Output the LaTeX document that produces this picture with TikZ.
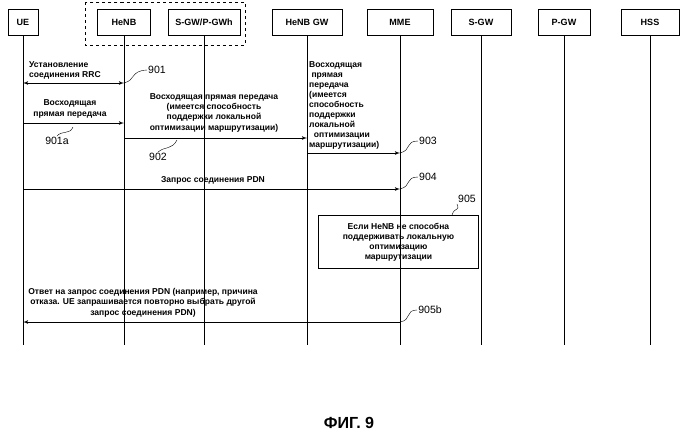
\documentclass[tikz,border=0pt]{standalone}
\usepackage{fontspec}
\setmainfont{Liberation Sans}
\usetikzlibrary{positioning, arrows}
\tikzstyle{head} = [rectangle, draw, thick, minimum height=26*0.035cm, inner sep=1pt, font=\fontsize{9}{10}\selectfont\bfseries]
\tikzstyle{msg} = [font=\fontsize{8.5}{10}\selectfont\bfseries, inner sep=1pt, align=center]
\tikzstyle{line} = [draw, thick, -latex']
\tikzstyle{tag} = [font=\fontsize{10.5}{11}\selectfont, inner sep=1pt]
\tikzstyle{squig} = [draw, thin]

\begin{document}
\begin{tikzpicture}[x=0.035cm, y=-0.035cm]
      \useasboundingbox (0,0) rectangle (699,436);
      % Place headers
      \node [head, minimum width=30*0.035cm] (ue) at (23,22) {UE};
      \node [head, minimum width=53*0.035cm] (henb) at (124,22) {HeNB};
      \node [head, minimum width=72*0.035cm] (sgwh) at (204,22) {S-GW/P-GWh};
      \node [head, minimum width=70*0.035cm] (henbgw) at (307,22) {HeNB GW};
      \node [head, minimum width=66*0.035cm] (mme) at (400,22) {MME};
      \node [head, minimum width=60*0.035cm] (sgw) at (481,22) {S-GW};
      \node [head, minimum width=52*0.035cm] (pgw) at (564,22) {P-GW};
      \node [head, minimum width=58*0.035cm] (hss) at (650,22) {HSS};
      \draw [dashed] (85,2) rectangle (245,45);

      % Lifelines
      \foreach \n/\x in {ue/23, henb/124, sgwh/204, henbgw/307, mme/400, sgw/481, pgw/564, hss/650} {
        \coordinate (\n-end) at (\x,345);
        \draw (\n) -- (\n-end);
      }
      \foreach \n/\x in {ue/23, henb/124, henbgw/307, mme/400} {
        \coordinate (\n-a) at (\x,83);
        \coordinate (\n-b) at (\x,123);
        \coordinate (\n-c) at (\x,138);
        \coordinate (\n-d) at (\x,153);
        \coordinate (\n-e) at (\x,189);
        \coordinate (\n-f) at (\x,322);
      }

      % Messages
      \path [draw, thick, latex'-latex'] (ue-a) -- (henb-a);
      \node [msg, align=left, anchor=south west] (rrc) at (28,80) {Установление\\соединения RRC};
      \path [line] (ue-b) -- (henb-b);
      \node [msg, anchor=south] (ul1) at (70,119) {Восходящая\\прямая передача};
      \path [line] (henb-c) -- (henbgw-c);
      \node [msg, anchor=south] (ul2) at (214,133) {Восходящая прямая передача\\(имеется способность\\поддержки локальной\\оптимизации маршрутизации)};
      \path [line] (henbgw-d) -- (mme-d);
      \node [msg, align=left, anchor=north west] (ul3) at (308,60) {Восходящая\\\ прямая\\передача\\(имеется\\способность\\поддержки\\локальной\\\ \ оптимизации\\маршрутизации)};
      \path [line] (ue-e) -- (mme-e);
      \node [msg, anchor=south] (pdn) at (213,185) {Запрос соединения PDN};
      \node [msg, draw, thick, minimum width=160*0.035cm, minimum height=53*0.035cm, anchor=north west] (cond) at (318,215) {Если HeNB не способна\\поддерживать локальную\\оптимизацию\\маршрутизации};
      \path [line] (mme-f) -- (ue-f);
      \node [msg, anchor=south] (resp) at (143,318) {Ответ на запрос соединения PDN (например, причина\\отказа. UE запрашивается повторно выбрать другой\\запрос соединения PDN)};

      % Reference numerals
      \node [tag] (t901) at (157,70) {901};
      \draw [squig] (henb-a) .. controls (136,80) and (130,71) .. (t901.west);
      \node [tag] (t901a) at (57,141) {901a};
      \draw [squig] (t901a.north) .. controls (62,130) and (70,135) .. (73,127);
      \node [tag] (t902) at (158,157) {902};
      \draw [squig] (t902.north) .. controls (165,146) and (172,150) .. (177,140);
      \node [tag] (t903) at (428,141) {903};
      \draw [squig] (mme-d) .. controls (412,150) and (405,141) .. (t903.west);
      \node [tag] (t904) at (428,177) {904};
      \draw [squig] (mme-e) .. controls (412,186) and (405,177) .. (t904.west);
      \node [tag] (t905) at (467,199) {905};
      \draw [squig] (t905.south west) .. controls (460,212) and (455,206) .. (452,215);
      \node [tag] (t905b) at (430,310) {905b};
      \draw [squig] (mme-f) .. controls (412,320) and (405,310) .. (t905b.west);

      \node [font=\fontsize{16}{18}\selectfont\bfseries] (fig) at (349,423) {ФИГ. 9};
\end{tikzpicture}
\end{document}
